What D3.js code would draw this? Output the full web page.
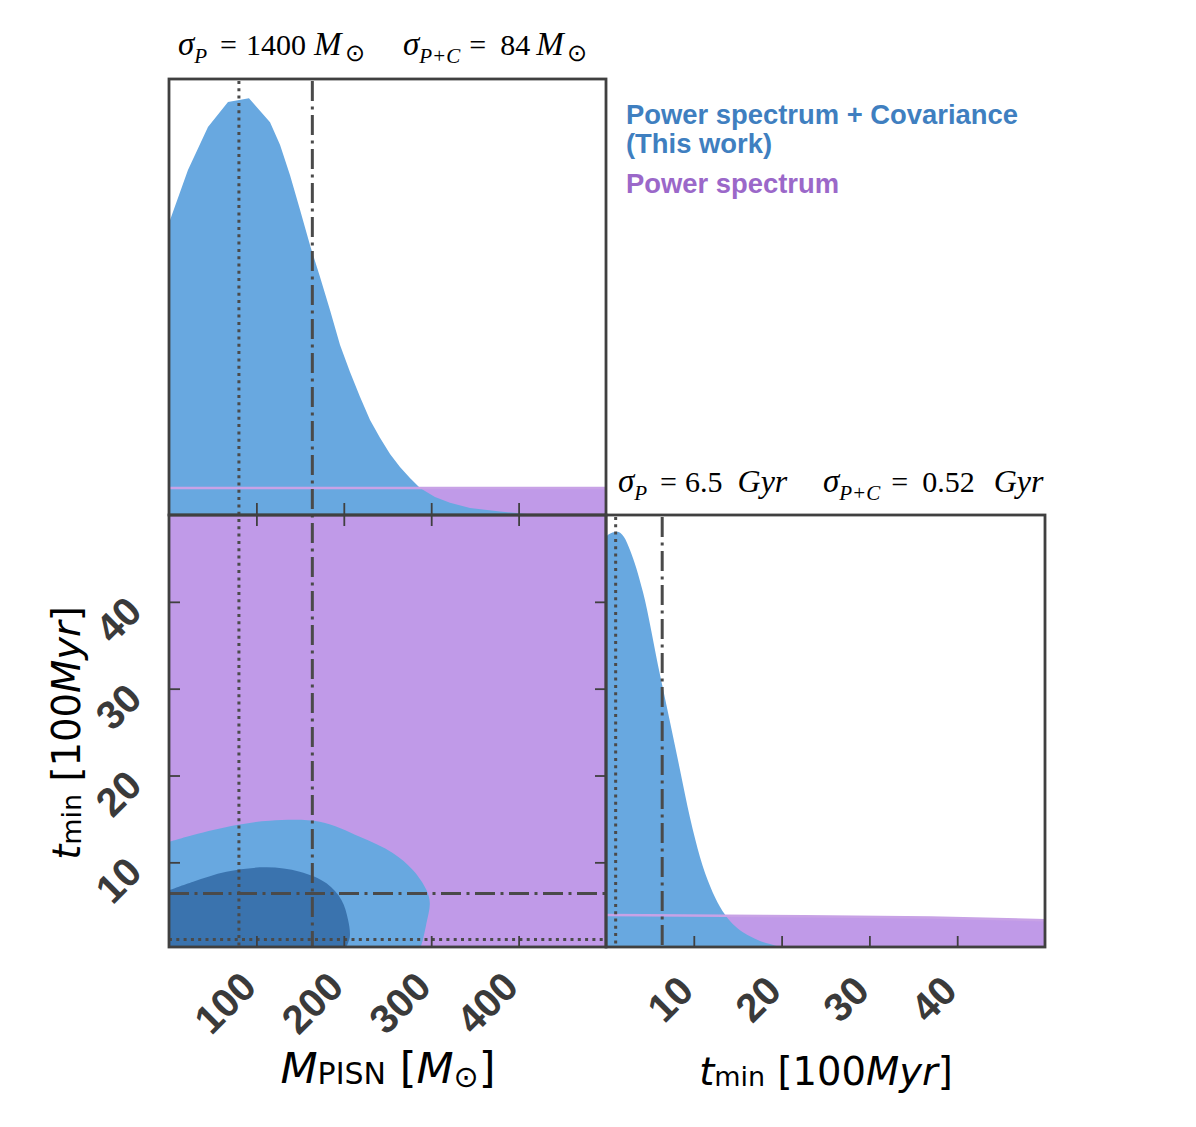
<!DOCTYPE html>
<html><head><meta charset="utf-8">
<script src="https://cdn.jsdelivr.net/npm/d3@7"></script>
<style>body{margin:0;background:#fff}svg{display:block}</style>
</head><body>
<svg id="c" width="1196" height="1127"></svg>
<script>
// ---------------- data ----------------
const mTicks = [100, 200, 300, 400];
const tTicks = [10, 20, 30, 40];

// 1D marginal of M_PISN (Power spectrum + Covariance)
const mGrid      = [0, 21.7, 44.6, 67.5, 91.5, 115.6, 127, 138.4, 149.9, 161.3, 172.8, 184.2, 195.7, 207.1, 218.5, 230, 241.4, 252.9, 264.3, 275.7, 287.2, 304.3, 321.5, 344.4, 378.7, 413, 430, 500];
const mDensityPC = [0.670, 0.791, 0.890, 0.947, 0.956, 0.901, 0.849, 0.780, 0.700, 0.619, 0.546, 0.470, 0.390, 0.328, 0.271, 0.218, 0.177, 0.140, 0.110, 0.085, 0.062, 0.041, 0.028, 0.016, 0.008, 0.002, 0, 0];
// 1D marginal of M_PISN (Power spectrum only)
const mGridP     = [0, 500];
const mDensityP  = [0.062, 0.062];

// 1D marginal of t_min (Power spectrum + Covariance)
const tGrid      = [0, 0.23, 1.25, 2.05, 2.73, 4.21, 6.15, 7.29, 8.43, 9.57, 10.71, 11.85, 12.98, 14.12, 15.26, 16.4, 17.54, 18.68, 20.16, 50];
const tDensityPC = [0.949, 0.954, 0.961, 0.949, 0.919, 0.822, 0.630, 0.521, 0.410, 0.299, 0.208, 0.141, 0.093, 0.060, 0.039, 0.025, 0.014, 0.007, 0, 0];
// 1D marginal of t_min (Power spectrum only)
const tGridP     = [0, 18, 37, 50];
const tDensityP  = [0.074, 0.072, 0.068, 0.062];

// 2D contours (M_PISN, t_min)
const c95M = [0.9, 27.6, 77.2, 115.3, 172.5, 218.3, 256, 279, 294.6, 298.4, 294.6, 290.4, 288];
const c95T = [12.38, 13.15, 14.3, 14.8, 14.68, 12.95, 11.08, 9.12, 6.81, 5.32, 3.01, 1.06, 0.25];
const c68M = [0.9, 27.6, 65.7, 111.5, 149.6, 180.2, 197.3, 204.9, 206.9, 203];
const c68T = [6.81, 7.77, 8.92, 9.42, 8.92, 7.58, 5.66, 3.36, 1.44, 0.28];
// Power spectrum only 2D region covers the whole prior box
const cPM = [0, 500, 500, 0];
const cPT = [0, 0, 50, 50];

// reference lines (sigma markers)
const mDotted = 80, mDashDot = 164;
const tDotted = 1.1, tDashDot = 6.4;

const legendLabels = ["Power spectrum + Covariance", "(This work)", "Power spectrum"];

// ---------------- styles ----------------
const BLUE = "#68a8e0", DBLUE = "#3a73ae", PURPLE = "#c09ae8", PLINE = "#c8a2e6";
const INK = "#404040";

// ---------------- scales ----------------
const xM  = d3.scaleLinear().domain([0, 500]).range([169, 606]);
const yT  = d3.scaleLinear().domain([0.25, 50]).range([947, 515]);
const xT  = d3.scaleLinear().domain([0, 50]).range([606, 1045]);
const yD1 = d3.scaleLinear().domain([0, 1]).range([515, 79]);
const yD2 = d3.scaleLinear().domain([0, 1]).range([947, 515]);

const svg = d3.select("#c");
const defs = svg.append("defs");
function clip(id, x, y, w, h) {
  defs.append("clipPath").attr("id", id).append("rect").attr("x", x).attr("y", y).attr("width", w).attr("height", h);
}
clip("cTL", 169, 79, 437, 436);
clip("cBL", 169, 515, 437, 432);
clip("cBR", 606, 515, 439, 432);

const DOT = "3 4.3", DASHDOT = "20 5.5 3 5.5";

// ---------------- top-left: M_PISN marginal ----------------
const gTL = svg.append("g").attr("clip-path", "url(#cTL)");
const areaM = d3.area().x(d => xM(d[0])).y0(yD1(0)).y1(d => yD1(d[1]));
gTL.append("path").attr("d", areaM(d3.zip(mGridP, mDensityP))).attr("fill", PURPLE);
gTL.append("path").attr("d", areaM(d3.zip(mGrid, mDensityPC))).attr("fill", BLUE);
gTL.append("path").attr("d", d3.line().x(d => xM(d[0])).y(d => yD1(d[1]))(d3.zip(mGridP, mDensityP)))
  .attr("fill", "none").attr("stroke", PLINE).attr("stroke-width", 2.5);

// ---------------- bottom-left: 2D ----------------
const gBL = svg.append("g").attr("clip-path", "url(#cBL)");
const line2 = d3.line().x(d => xM(d[0])).y(d => yT(d[1]));
gBL.append("path").attr("d", line2(d3.zip(cPM, cPT)) + "Z").attr("fill", PURPLE);
function contourPath(M, T) {
  const pts = d3.zip(M, T);
  const curve = d3.line().x(d => xM(d[0])).y(d => yT(d[1])).curve(d3.curveCatmullRom)(pts);
  const close = [[M[M.length - 1], -3], [-10, -3], [-10, T[0]], [M[0], T[0]]];
  return curve + close.map(p => "L" + xM(p[0]) + "," + yT(p[1])).join("") + "Z";
}
gBL.append("path").attr("d", contourPath(c95M, c95T)).attr("fill", BLUE);
gBL.append("path").attr("d", contourPath(c68M, c68T)).attr("fill", DBLUE);

// ---------------- bottom-right: t_min marginal ----------------
const gBR = svg.append("g").attr("clip-path", "url(#cBR)");
const areaT = d3.area().x(d => xT(d[0])).y0(yD2(0)).y1(d => yD2(d[1]));
gBR.append("path").attr("d", areaT.curve(d3.curveMonotoneX)(d3.zip(tGridP, tDensityP))).attr("fill", PURPLE);
gBR.append("path").attr("d", areaT.curve(d3.curveMonotoneX)(d3.zip(tGrid, tDensityPC))).attr("fill", BLUE);
gBR.append("path").attr("d", d3.line().x(d => xT(d[0])).y(d => yD2(d[1])).curve(d3.curveMonotoneX)(d3.zip(tGridP, tDensityP)))
  .attr("fill", "none").attr("stroke", PLINE).attr("stroke-width", 2.5);

// ---------------- reference lines ----------------
const gL = svg.append("g").attr("stroke", "#4a4a4a").attr("stroke-width", 3).attr("fill", "none");
function vline(x, y0, y1, dash) { gL.append("line").attr("x1", x).attr("x2", x).attr("y1", y0).attr("y2", y1).attr("stroke-dasharray", dash); }
function hline(y, x0, x1, dash) { gL.append("line").attr("y1", y).attr("y2", y).attr("x1", x0).attr("x2", x1).attr("stroke-dasharray", dash); }
vline(xM(mDotted), 81, 947, DOT);
vline(xM(mDashDot), 81, 947, DASHDOT);
hline(yT(tDashDot), 169, 606, DASHDOT);
hline(yT(tDotted), 169, 606, DOT);
vline(xT(tDotted), 517, 947, DOT);
vline(xT(tDashDot), 517, 947, DASHDOT);

// ---------------- ticks ----------------
function ticks(axis, tx, ty) {
  svg.append("g").attr("transform", `translate(${tx},${ty})`)
    .call(axis.tickFormat("").tickSizeOuter(0))
    .call(g => g.select(".domain").remove())
    .call(g => g.selectAll(".tick line").attr("stroke", INK).attr("stroke-width", 1.8));
}
ticks(d3.axisBottom(xM).tickValues(mTicks).tickSizeInner(-12), 0, 515);
ticks(d3.axisBottom(xM).tickValues(mTicks).tickSizeInner(-11), 0, 947);
ticks(d3.axisTop(xM).tickValues(mTicks).tickSizeInner(-11), 0, 515);
ticks(d3.axisLeft(yT).tickValues(tTicks).tickSizeInner(-11), 169, 0);
ticks(d3.axisRight(yT).tickValues(tTicks).tickSizeInner(-11), 606, 0);
ticks(d3.axisBottom(xT).tickValues(tTicks).tickSizeInner(-11), 0, 947);

// ---------------- frames ----------------
const gF = svg.append("g").attr("fill", "none").attr("stroke", INK).attr("stroke-width", 2.8);
gF.append("rect").attr("x", 169).attr("y", 79).attr("width", 437).attr("height", 436);
gF.append("rect").attr("x", 169).attr("y", 515).attr("width", 437).attr("height", 432);
gF.append("rect").attr("x", 606).attr("y", 515).attr("width", 439).attr("height", 432);

// ---------------- tick labels ----------------
const tl = svg.append("g").attr("font-family", "'Liberation Sans', Arial, sans-serif").attr("font-weight", "bold")
  .attr("font-size", 40).attr("fill", "#3a3a3a").attr("text-anchor", "end");
mTicks.forEach(v => tl.append("text").attr("transform", `translate(${xM(v) + 2},${989}) rotate(-45)`).text(v));
tTicks.forEach(v => tl.append("text").attr("transform", `translate(${xT(v) + 2},${993}) rotate(-45)`).text(v));
tTicks.forEach(v => tl.append("text").attr("transform", `translate(${144},${yT(v) + 12}) rotate(-45)`).text(v));

// ---------------- math-like text helper ----------------
function mathText(parent, x, y, segs, o) {
  const t = parent.append("text").attr("x", x).attr("y", y)
    .attr("font-family", o.family).attr("font-size", o.size).attr("fill", o.color || "#000")
    .attr("text-anchor", o.anchor || "start");
  if (o.transform) t.attr("transform", o.transform);
  let prevOff = 0;
  segs.forEach(s => {
    const sp = t.append("tspan").text(s.t);
    if (s.i) sp.attr("font-style", "italic");
    if (s.sub) sp.attr("font-size", s.size || o.subSize);
    else if (s.size) sp.attr("font-size", s.size);
    const off = s.off || 0;
    if (off !== prevOff) sp.attr("dy", off - prevOff);
    if (s.dx) sp.attr("dx", s.dx);
    prevOff = off;
  });
  return t;
}
const serif = { family: "'Liberation Serif', 'Times New Roman', serif", size: 30, subSize: 21 };
mathText(svg, 178, 55, [{ t: "σ", i: 1, size: 33 }, { t: "P", i: 1, sub: 1, off: 8 }, { t: "=", dx: 13 }, { t: "1400", dx: 9 },
  { t: "M", i: 1, dx: 8, size: 33 }, { t: "⊙", sub: 1, off: 6, dx: 3, size: 24 }], serif);
mathText(svg, 403, 55, [{ t: "σ", i: 1, size: 33 }, { t: "P+C", i: 1, sub: 1, off: 8 }, { t: "=", dx: 9 }, { t: "84", dx: 14 },
  { t: "M", i: 1, dx: 6, size: 33 }, { t: "⊙", sub: 1, off: 6, dx: 3, size: 24 }], serif);
mathText(svg, 618, 492, [{ t: "σ", i: 1, size: 33 }, { t: "P", i: 1, sub: 1, off: 8 }, { t: "=", dx: 13 }, { t: "6.5", dx: 8 },
  { t: "Gyr", i: 1, dx: 15, size: 32 }], serif);
mathText(svg, 823, 492, [{ t: "σ", i: 1, size: 33 }, { t: "P+C", i: 1, sub: 1, off: 8 }, { t: "=", dx: 11 }, { t: "0.52", dx: 14 },
  { t: "Gyr", i: 1, dx: 19, size: 32 }], serif);

// axis labels
const sansM = { family: "'DejaVu Sans', sans-serif", size: 43, subSize: 30, anchor: "middle" };
const sansT = { family: "'DejaVu Sans', sans-serif", size: 38.5, subSize: 27, anchor: "middle" };
mathText(svg, 388, 1083, [{ t: "M", i: 1 }, { t: "PISN", sub: 1, off: 1 }, { t: " [" }, { t: "M", i: 1 }, { t: "⊙", sub: 1, off: 4 }, { t: "]" }], sansM);
const tLabel = [{ t: "t", i: 1 }, { t: "min", sub: 1, off: 1 }, { t: " [100" }, { t: "Myr", i: 1 }, { t: "]" }];
mathText(svg, 826, 1085, tLabel, sansT);
mathText(svg, 0, 0, tLabel, Object.assign({}, sansT, { transform: "translate(80,733) rotate(-90)" }));

// legend
const lg = svg.append("g").attr("font-family", "'Liberation Sans', Arial, sans-serif").attr("font-weight", "bold").attr("font-size", 27.4);
lg.append("text").attr("x", 626).attr("y", 124).attr("fill", "#3f7fc0").text(legendLabels[0]);
lg.append("text").attr("x", 626).attr("y", 153).attr("fill", "#3f7fc0").text(legendLabels[1]);
lg.append("text").attr("x", 626).attr("y", 193).attr("fill", "#9b68c9").text(legendLabels[2]);
</script>
</body></html>
